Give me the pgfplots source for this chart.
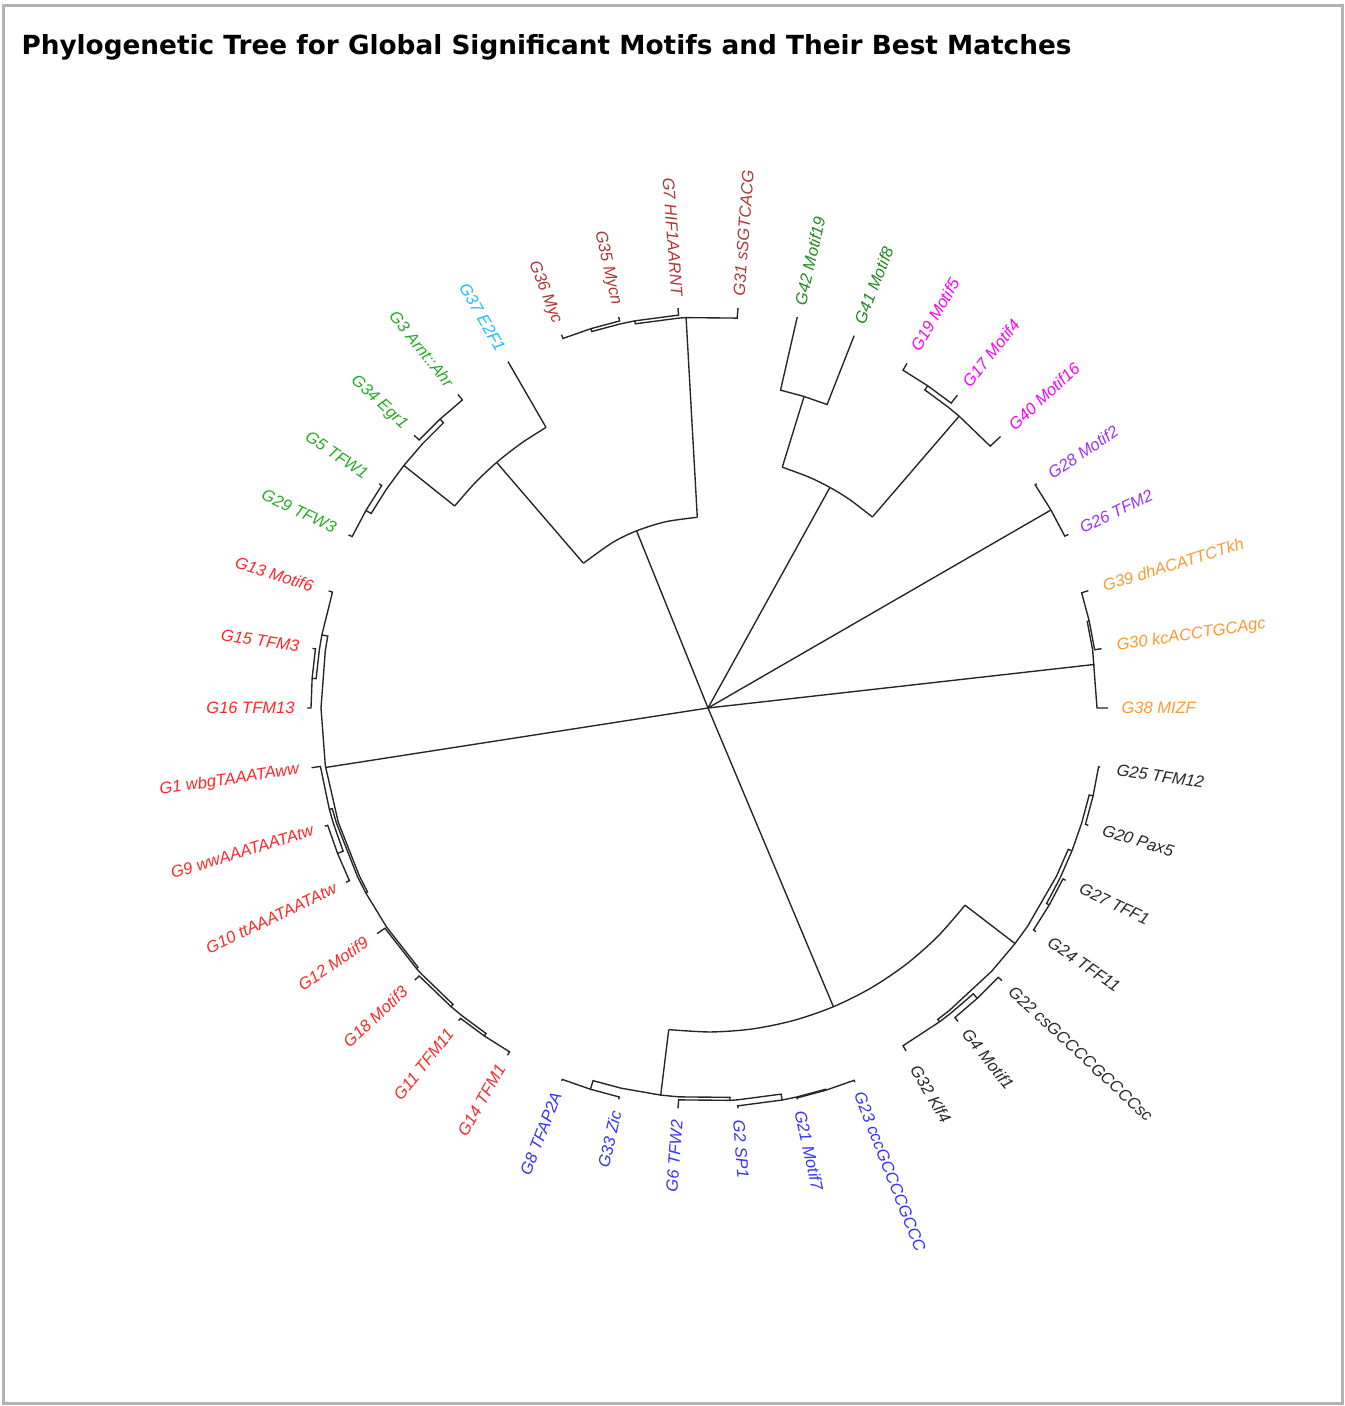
\documentclass[border=0pt]{standalone}
\usepackage{fontspec}
\setmainfont{Liberation Sans}
\newfontfamily\titlefont{DejaVu Sans}
\usepackage{graphicx}
\usepackage{pgfplots}
\pgfplotsset{compat=1.18}
\definecolor{corange}{RGB}{255,153,51}
\definecolor{cpurple}{RGB}{153,51,255}
\definecolor{cmagenta}{RGB}{255,0,255}
\definecolor{cdkgreen}{RGB}{34,139,34}
\definecolor{cbrown}{RGB}{175,55,55}
\definecolor{ccyan}{RGB}{30,190,255}
\definecolor{cgreen}{RGB}{40,170,40}
\definecolor{cred}{RGB}{255,40,40}
\definecolor{cblue}{RGB}{51,51,255}
\definecolor{cblack}{RGB}{40,40,40}
\definecolor{cframe}{RGB}{178,178,178}
\tikzset{lab/.style={inner sep=0pt,font=\fontsize{6.6}{7}\selectfont\itshape}}
\newcommand\tipR[3]{\path (axis cs:0,0) ++(#1:165.2pt) node[lab,text=#3,rotate=#1,anchor=west]{#2};}
\newcommand\tipL[3]{\path (axis cs:0,0) ++(#1:165.2pt) node[lab,text=#3,rotate={#1-180},anchor=east]{#2};}
\begin{document}
\begin{tikzpicture}
\begin{axis}[x=0.4pt,y=0.4pt,xmin=-708,xmax=637,ymin=-698,ymax=708,
  hide axis,clip=false,scale only axis,
  tree/.style={draw=black!85,line width=0.55pt,mark=none,data cs=polar},
  arc/.style={draw=black!85,line width=0.55pt,mark=none,data cs=polar,smooth}]
\fill[white] (axis cs:-708,-698) rectangle (axis cs:637,708);
\draw[cframe,line width=1.2pt] (axis cs:-704.5,-695.5) rectangle (axis cs:634.5,702.5);
\node[anchor=base west,inner sep=0pt] at (axis cs:-687,653) {\resizebox{420pt}{!}{\titlefont\bfseries Phylogenetic Tree for Global Significant Motifs and Their Best Matches}};
% root branches
\addplot[tree] coordinates {(6.429,0) (6.429,389)};
\addplot[tree] coordinates {(30,0) (30,396)};
\addplot[tree] coordinates {(61.071,0) (61.071,252)};
\addplot[tree] coordinates {(111.964,0) (111.964,191)};
\addplot[tree] coordinates {(188.839,0) (188.839,387)};
\addplot[tree] coordinates {(292.768,0) (292.768,324)};
% orange
\addplot[tree] coordinates {(0,400) (0,389) (8.571,389) (12.857,389) (12.857,391)};
\addplot[tree] coordinates {(8.571,398) (8.571,391) (12.857,391) (17.143,391) (17.143,398)};
% purple
\addplot[tree] coordinates {(25.714,400) (25.714,396) (30,396) (34.286,396) (34.286,398)};
% upper right
\addplot[arc] coordinates {(49.286,252) (55.714,252) (61.071,252) (66.429,252) (72.857,252)};
\addplot[tree] coordinates {(49.286,252) (49.286,385)};
\addplot[tree] coordinates {(72.857,252) (72.857,326)};
\addplot[tree] coordinates {(68.571,400) (68.571,326) (72.857,326) (77.143,326) (77.143,401)};
\addplot[tree] coordinates {(42.857,399) (42.857,385) (49.286,385) (51.429,385) (55.714,385) (55.714,390)};
\addplot[tree] coordinates {(51.429,400) (51.429,390) (55.714,390) (60,390) (60,398)};
% upper left
\addplot[arc] coordinates {(93.214,191) (102.857,191) (111.964,191) (120,191) (130.714,191)};
\addplot[tree] coordinates {(93.214,191) (93.214,391)};
\addplot[tree] coordinates {(130.714,191) (130.714,324)};
\addplot[tree] coordinates {(85.714,401) (85.714,391) (93.214,391) (94.286,391) (100.714,391) (100.714,394)};
\addplot[tree] coordinates {(94.286,401) (94.286,394) (100.714,394) (102.857,394) (107.143,394) (107.143,397)};
\addplot[tree] coordinates {(102.857,401) (102.857,397) (107.143,397) (111.429,397) (111.429,401)};
\addplot[arc] coordinates {(120,324) (125.357,324) (130.714,324) (136.071,324) (141.429,324)};
\addplot[tree] coordinates {(120,324) (120,400)};
\addplot[tree] coordinates {(141.429,324) (141.429,389)};
\addplot[tree] coordinates {(132.857,394) (132.857,389) (137.143,389) (141.429,389) (145.714,389) (150,389) (150,395)};
\addplot[tree] coordinates {(128.571,401) (128.571,394) (132.857,394) (137.143,394) (137.143,401)};
\addplot[tree] coordinates {(145.714,398) (145.714,395) (150,395) (154.286,395) (154.286,399)};
% red
\addplot[tree] coordinates {(169.286,393) (169.286,387) (171.429,387) (180,387) (188.571,387) (197.143,387) (205.714,387) (208.393,387) (208.393,389)};
\addplot[tree] coordinates {(162.857,397) (162.857,393) (169.286,393) (171.429,393) (175.714,393) (175.714,397)};
\addplot[tree] coordinates {(171.429,400) (171.429,397) (175.714,397) (180,397) (180,401)};
\addplot[tree] coordinates {(195,392) (195,389) (197.143,389) (205.714,389) (208.393,389) (214.286,389) (221.786,389) (221.786,391)};
\addplot[tree] coordinates {(188.571,401) (188.571,392) (195,392) (197.143,392) (201.429,392) (201.429,398)};
\addplot[tree] coordinates {(197.143,401) (197.143,398) (201.429,398) (205.714,398) (205.714,402)};
\addplot[tree] coordinates {(214.286,400.6) (214.286,391) (221.786,391) (222.857,391) (229.286,391) (229.286,394)};
\addplot[tree] coordinates {(222.857,400) (222.857,394) (229.286,394) (231.429,394) (235.714,394) (235.714,397)};
\addplot[tree] coordinates {(231.429,400) (231.429,397) (235.714,397) (240,397) (240,401)};
% bottom
\addplot[arc] coordinates {(263.036,324) (270.470,324) (277.904,324) (285.338,324) (292.768,324) (300.200,324) (307.634,324) (315.068,324) (322.5,324)};
\addplot[tree] coordinates {(263.036,324) (263.036,390)};
\addplot[tree] coordinates {(322.5,324) (322.5,387)};
\addplot[tree] coordinates {(252.857,399) (252.857,390) (257.143,390) (263.036,390) (265.714,390) (273.214,390) (273.214,393)};
\addplot[tree] coordinates {(248.571,400.6) (248.571,399) (252.857,399) (257.143,399) (257.143,401.5)};
\addplot[tree] coordinates {(265.714,401.5) (265.714,393) (273.214,393) (274.286,393) (280.714,393) (280.714,399)};
\addplot[tree] coordinates {(274.286,401.5) (274.286,399) (280.714,399) (282.857,399) (287.143,399) (287.143,400)};
\addplot[tree] coordinates {(282.857,401.5) (282.857,400) (287.143,400) (291.429,400) (291.429,402)};
\addplot[tree] coordinates {(306.429,390) (306.429,387) (308.571,387) (317.143,387) (322.5,387) (325.714,387) (334.286,387) (338.571,387) (338.571,391)};
\addplot[tree] coordinates {(300,396) (300,390) (306.429,390) (308.571,390) (312.857,390) (312.857,396)};
\addplot[tree] coordinates {(308.571,401) (308.571,396) (312.857,396) (317.143,396) (317.143,401)};
\addplot[tree] coordinates {(330,394) (330,391) (334.286,391) (338.571,391) (342.857,391) (347.143,391) (347.143,395)};
\addplot[tree] coordinates {(325.714,397) (325.714,394) (330,394) (334.286,394) (334.286,397)};
\addplot[tree] coordinates {(342.857,398) (342.857,395) (347.143,395) (351.429,395) (351.429,396.6)};
% labels
\tipR{0}{G38 MIZF}{corange}
\tipR{8.571}{G30 kcACCTGCAgc}{corange}
\tipR{17.143}{G39 dhACATTCTkh}{corange}
\tipR{25.714}{G26 TFM2}{cpurple}
\tipR{34.286}{G28 Motif2}{cpurple}
\tipR{42.857}{G40 Motif16}{cmagenta}
\tipR{51.429}{G17 Motif4}{cmagenta}
\tipR{60}{G19 Motif5}{cmagenta}
\tipR{68.571}{G41 Motif8}{cdkgreen}
\tipR{77.143}{G42 Motif19}{cdkgreen}
\tipR{85.714}{G31 sSGTCACG}{cbrown}
\tipL{94.286}{G7 HIF1AARNT}{cbrown}
\tipL{102.857}{G35 Mycn}{cbrown}
\tipL{111.429}{G36 Myc}{cbrown}
\tipL{120}{G37 E2F1}{ccyan}
\tipL{128.571}{G3 Arnt::Ahr}{cgreen}
\tipL{137.143}{G34 Egr1}{cgreen}
\tipL{145.714}{G5 TFW1}{cgreen}
\tipL{154.286}{G29 TFW3}{cgreen}
\tipL{162.857}{G13 Motif6}{cred}
\tipL{171.429}{G15 TFM3}{cred}
\tipL{180}{G16 TFM13}{cred}
\tipL{188.571}{G1 wbgTAAATAww}{cred}
\tipL{197.143}{G9 wwAAATAATAtw}{cred}
\tipL{205.714}{G10 ttAAATAATAtw}{cred}
\tipL{214.286}{G12 Motif9}{cred}
\tipL{222.857}{G18 Motif3}{cred}
\tipL{231.429}{G11 TFM11}{cred}
\tipL{240}{G14 TFM1}{cred}
\tipL{248.571}{G8 TFAP2A}{cblue}
\tipL{257.143}{G33 Zic}{cblue}
\tipL{265.714}{G6 TFW2}{cblue}
\tipR{274.286}{G2 SP1}{cblue}
\tipR{282.857}{G21 Motif7}{cblue}
\tipR{291.429}{G23 cccGCCCCGCCC}{cblue}
\tipR{300}{G32 Klf4}{cblack}
\tipR{308.571}{G4 Motif1}{cblack}
\tipR{317.143}{G22 csGCCCCGCCCCsc}{cblack}
\tipR{325.714}{G24 TFF11}{cblack}
\tipR{334.286}{G27 TFF1}{cblack}
\tipR{342.857}{G20 Pax5}{cblack}
\tipR{351.429}{G25 TFM12}{cblack}
\end{axis}
\end{tikzpicture}
\end{document}
